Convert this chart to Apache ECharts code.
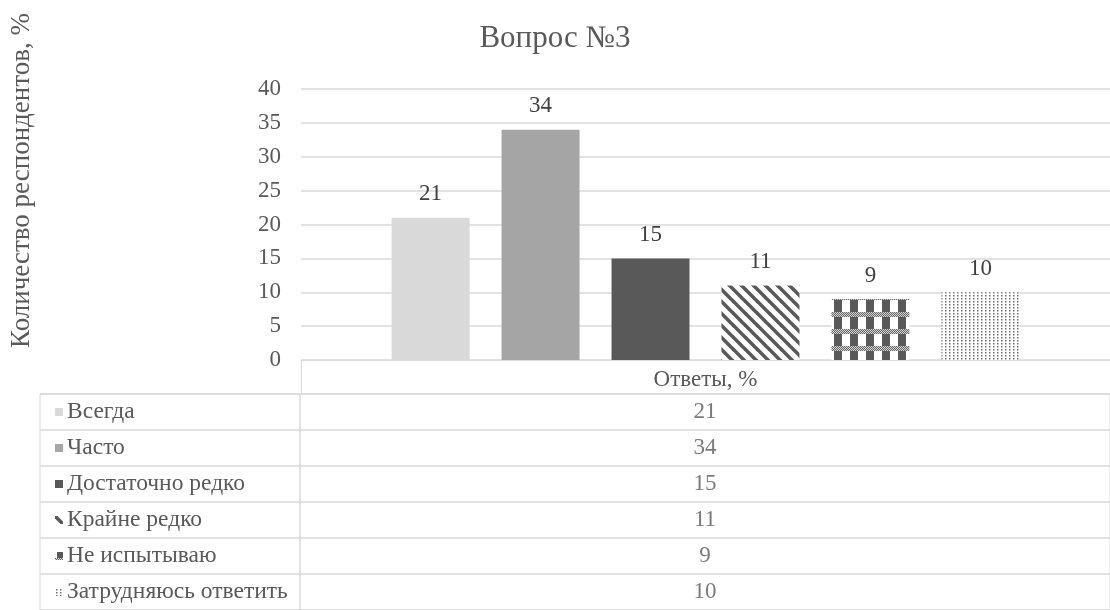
<!DOCTYPE html>
<html><head><meta charset="utf-8">
<script src="https://cdn.jsdelivr.net/npm/echarts@6/dist/echarts.min.js"></script>
<style>html,body{margin:0;padding:0;background:#fff}#c{width:1110px;height:610px}</style>
</head><body><div id="c"></div>
<script>
const titleText = 'Вопрос №3';
const yAxisName = 'Количество респондентов, %';
const category = ['Ответы, %'];
const seriesNames = ['Всегда','Часто','Достаточно редко','Крайне редко','Не испытываю','Затрудняюсь ответить'];
const seriesValues = [21, 34, 15, 11, 9, 10];
const yTicks = [0,5,10,15,20,25,30,35,40];

function cv(w,h){const c=document.createElement('canvas');c.width=w;c.height=h;return c;}
function stripes(){const c=cv(12,12),g=c.getContext('2d');g.fillStyle='#fff';g.fillRect(0,0,12,12);
  g.strokeStyle='#595959';g.lineWidth=3.6;
  for(const o of [-12,0,12]){g.beginPath();g.moveTo(o-2,-2);g.lineTo(o+14,14);g.stroke();}
  return c;}
function plaid(){const w=16,h=17,c=cv(w,h),g=c.getContext('2d');g.fillStyle='#fff';g.fillRect(0,0,w,h);
  g.fillStyle='#595959';g.fillRect(2,0,8,h);
  for(let y=6;y<11;y++)for(let x=0;x<w;x++){g.fillStyle=((x+y)%2==0)?'#6a6a6a':'#d0d0d0';g.fillRect(x,y,1,1);}
  return c;}
function dots(){const c=cv(4,3),g=c.getContext('2d');g.fillStyle='#fff';g.fillRect(0,0,4,3);
  g.fillStyle='#707070';g.fillRect(1,1,1.5,1.5);return c;}
const fills = ['#d9d9d9','#a5a5a5','#595959',stripes(),plaid(),dots()];
function fillOf(f){return typeof f==='string'?f:{image:f,repeat:'repeat'};}
function icon(f){const c=cv(8,8),g=c.getContext('2d');
  if(typeof f==='string'){g.fillStyle=f;g.fillRect(0,0,8,8);}else{g.fillStyle=g.createPattern(f,'repeat');g.fillRect(0,0,8,8);}return c;}

const font='Liberation Serif';
const rich = {n:{fontFamily:font,fontSize:23.5,color:'#595959',padding:[0,0,0,4]}};
seriesNames.forEach((s,i)=>{rich['i'+i]={width:8,height:8,backgroundColor:{image:icon(fills[i])}};});

const chart = echarts.init(document.getElementById('c'));
const series = seriesNames.map((name,i)=>({
  type:'bar', name, xAxisIndex:0, yAxisIndex:0,
  data:[seriesValues[i]],
  barGap:'41%', barCategoryGap:'22.4%',
  itemStyle:{color:fillOf(fills[i])},
  label:{show:true,position:'top',distance:12,fontFamily:font,fontSize:23,color:'#404040'},
  silent:true
}));
series.push({
  type:'scatter', xAxisIndex:2, yAxisIndex:2, symbolSize:0, silent:true,
  data: seriesNames.map((n,i)=>[0,i,seriesValues[i]]),
  encode:{x:0,y:1},
  label:{show:true,position:'inside',formatter:p=>String(p.value[2]),fontFamily:font,fontSize:23,color:'#595959'}
});
chart.setOption({
  animation:false,
  title:{text:titleText,left:'center',top:18,textStyle:{fontFamily:font,fontSize:31,fontWeight:'normal',color:'#595959'}},
  grid:[
    {left:300,top:89,width:819,height:271},
    {left:40,top:394,width:260,height:221,show:true,borderColor:'#d9d9d9',borderWidth:1},
    {left:300,top:394,width:819,height:221,show:true,borderColor:'#d9d9d9',borderWidth:1}
  ],
  xAxis:[
    {type:'category',gridIndex:0,data:category,
     axisLine:{lineStyle:{color:'#d9d9d9'}},
     axisTick:{show:true,length:34,lineStyle:{color:'#d9d9d9'}},
     axisLabel:{fontFamily:font,fontSize:23,color:'#595959',margin:8}},
    {type:'value',gridIndex:1,show:false,min:0,max:1},
    {type:'category',gridIndex:2,show:false,data:['v']}
  ],
  yAxis:[
    {type:'value',gridIndex:0,min:yTicks[0],max:yTicks[yTicks.length-1],interval:5,
     name:yAxisName,nameLocation:'middle',nameGap:266,nameRotate:90,
     nameTextStyle:{fontFamily:font,fontSize:27,color:'#595959',padding:[0,0,0,88]},
     axisLine:{show:false},axisTick:{show:false},
     axisLabel:{fontFamily:font,fontSize:23,color:'#595959',margin:20},
     splitLine:{lineStyle:{color:'#d9d9d9',width:1.5}}},
    {type:'category',gridIndex:1,inverse:true,data:seriesNames,
     axisLine:{show:false},axisTick:{show:false},
     splitLine:{show:true,lineStyle:{color:'#d9d9d9',width:1.5}},
     axisLabel:{inside:true,margin:15,align:'left',
       formatter:(v,i)=>'{i'+i+'|}{n|'+v+'}',rich}},
    {type:'category',gridIndex:2,inverse:true,data:seriesNames,
     axisLine:{show:false},axisTick:{show:false},axisLabel:{show:false},
     splitLine:{show:true,lineStyle:{color:'#d9d9d9',width:1.5}}}
  ],
  series
});
</script></body></html>
